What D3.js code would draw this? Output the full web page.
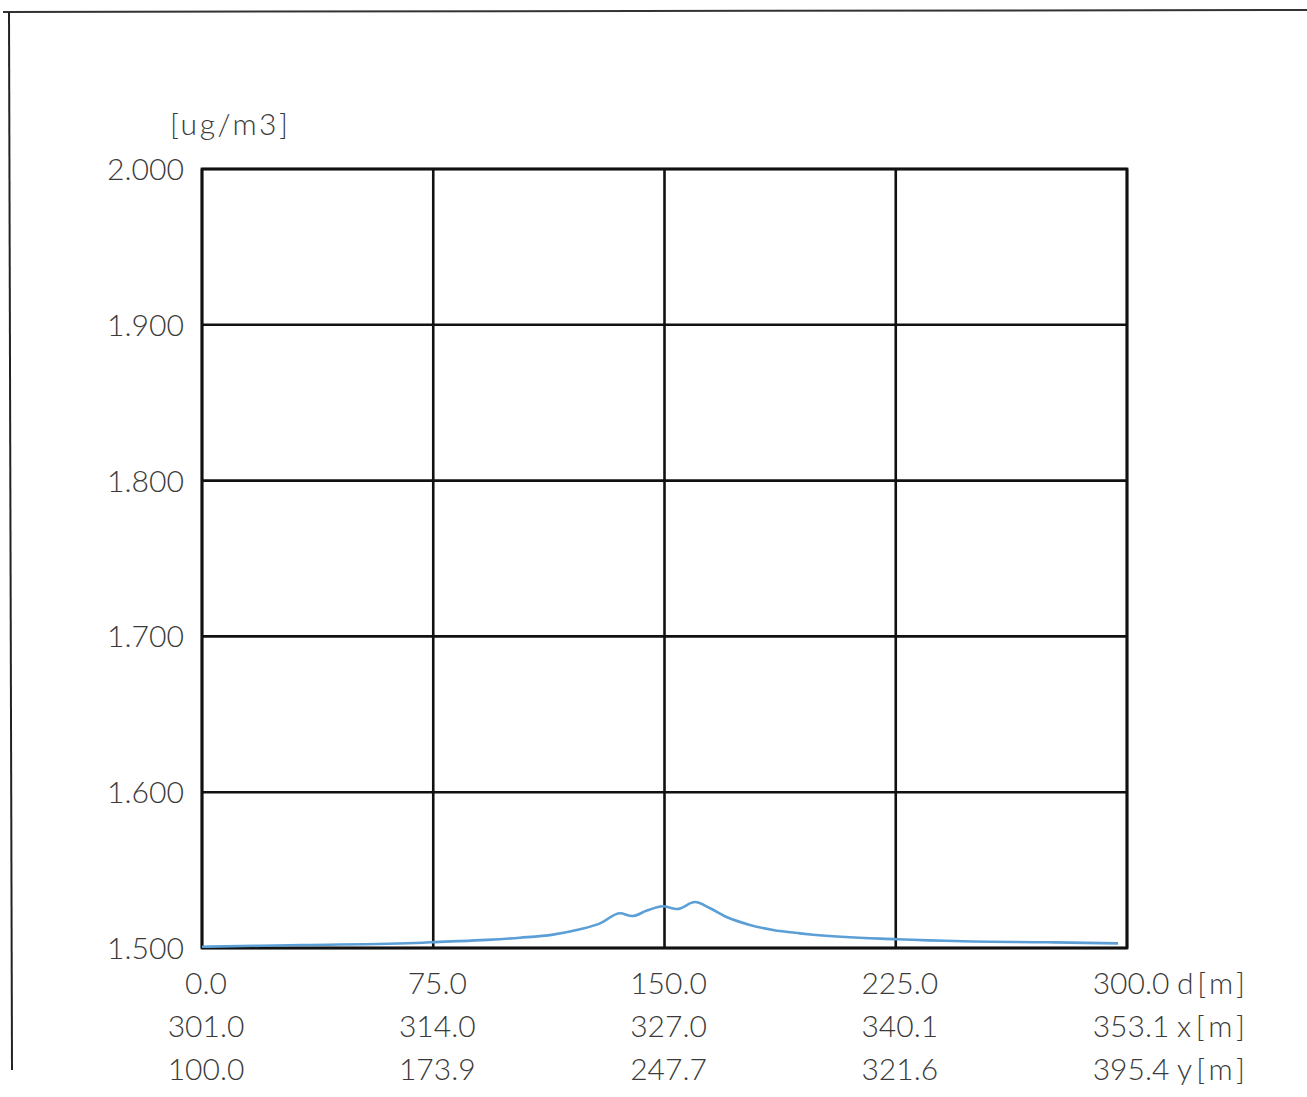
<!DOCTYPE html>
<html>
<head>
<meta charset="utf-8">
<script src="https://cdn.jsdelivr.net/npm/d3@7"></script>
<style>
  html, body { margin: 0; padding: 0; background: #fff; }
  svg text { font-family: Lato, "DejaVu Sans", sans-serif; font-weight: 300; fill: #3a3a3a; }
</style>
</head>
<body>
<svg id="chart" width="1307" height="1097"></svg>
<script>
// Concentration profile along the section line
const distance = [0, 2.6, 32.8, 71.7, 75.6, 92.4, 103.1, 113.8, 122.6, 129.1, 135.6, 139.5, 144.3, 149.5, 154.1, 159.9, 164.8, 170.3, 177.7, 185.2, 193.9, 198.2, 225.4, 246.8, 274.1, 297.1];
const concentration = [1.5008, 1.5009, 1.5019, 1.5034, 1.5038, 1.5052, 1.5066, 1.5086, 1.5120, 1.5158, 1.5223, 1.5205, 1.5240, 1.5268, 1.5250, 1.5295, 1.5255, 1.5197, 1.5148, 1.5116, 1.5094, 1.5085, 1.5056, 1.5043, 1.5037, 1.5030];

// Axis ticks and labels
const yTicks = [1.5, 1.6, 1.7, 1.8, 1.9, 2.0];
const dTicks = [0, 75, 150, 225, 300];
const xCoordLabels = ["301.0", "314.0", "327.0", "340.1", "353.1"];
const yCoordLabels = ["100.0", "173.9", "247.7", "321.6", "395.4"];
const unitLabel = "[ug/m3]";
const rowUnits = ["d[m]", "x[m]", "y[m]"];

const svg = d3.select("#chart");
const plot = { left: 202, right: 1127, top: 169, bottom: 948 };

const x = d3.scaleLinear().domain([0, 300]).range([plot.left, plot.right]);
const y = d3.scaleLinear().domain([1.5, 2.0]).range([plot.bottom, plot.top]);

// Sheet border (top and left edges)
svg.append("line").attr("x1", 3).attr("y1", 12).attr("x2", 1307).attr("y2", 10)
  .attr("stroke", "#333").attr("stroke-width", 2);
svg.append("line").attr("x1", 9).attr("y1", 12).attr("x2", 12).attr("y2", 1070)
  .attr("stroke", "#222").attr("stroke-width", 2);

// Grid
const grid = svg.append("g").attr("stroke", "#111").attr("stroke-width", 2.6);
grid.selectAll("line.h").data(yTicks).join("line").attr("class", "h")
  .attr("x1", plot.left).attr("x2", plot.right)
  .attr("y1", d => y(d)).attr("y2", d => y(d));
grid.selectAll("line.v").data(dTicks).join("line").attr("class", "v")
  .attr("y1", plot.top).attr("y2", plot.bottom)
  .attr("x1", d => x(d)).attr("x2", d => x(d));
svg.append("rect").attr("x", plot.left).attr("y", plot.top)
  .attr("width", plot.right - plot.left).attr("height", plot.bottom - plot.top)
  .attr("fill", "none").attr("stroke", "#111").attr("stroke-width", 2.8);

// Y tick labels
svg.append("g").selectAll("text").data(yTicks).join("text")
  .attr("x", 184).attr("y", d => y(d) + 11)
  .attr("text-anchor", "end").attr("font-size", 30)
  .attr("textLength", 77).attr("lengthAdjust", "spacingAndGlyphs")
  .text(d => d3.format(".3f")(d));

// Unit label
svg.append("text").attr("x", 170).attr("y", 135).attr("font-size", 30)
  .attr("textLength", 118).attr("lengthAdjust", "spacing")
  .text(unitLabel);

// Bottom label rows: distance, x coordinate, y coordinate
const rows = [
  { labels: dTicks.map(d => d3.format(".1f")(d)), yPos: 994 },
  { labels: xCoordLabels, yPos: 1037 },
  { labels: yCoordLabels, yPos: 1080 }
];
rows.forEach((row, ri) => {
  const g = svg.append("g");
  g.selectAll("text").data(row.labels).join("text")
    .attr("x", (d, i) => x(dTicks[i]) + 4)
    .attr("y", row.yPos)
    .attr("text-anchor", "middle").attr("font-size", 30)
    .text(d => d);
  g.append("text")
    .attr("x", x(300) + 50).attr("y", row.yPos)
    .attr("font-size", 30)
    .attr("textLength", 68).attr("lengthAdjust", "spacing")
    .text(rowUnits[ri]);
});

// Concentration curve
const line = d3.line()
  .x((d, i) => x(distance[i]))
  .y(d => y(d))
  .curve(d3.curveMonotoneX);
svg.append("path").datum(concentration)
  .attr("d", line)
  .attr("fill", "none")
  .attr("stroke", "#5b9fd6")
  .attr("stroke-width", 2.6);
</script>
</body>
</html>
